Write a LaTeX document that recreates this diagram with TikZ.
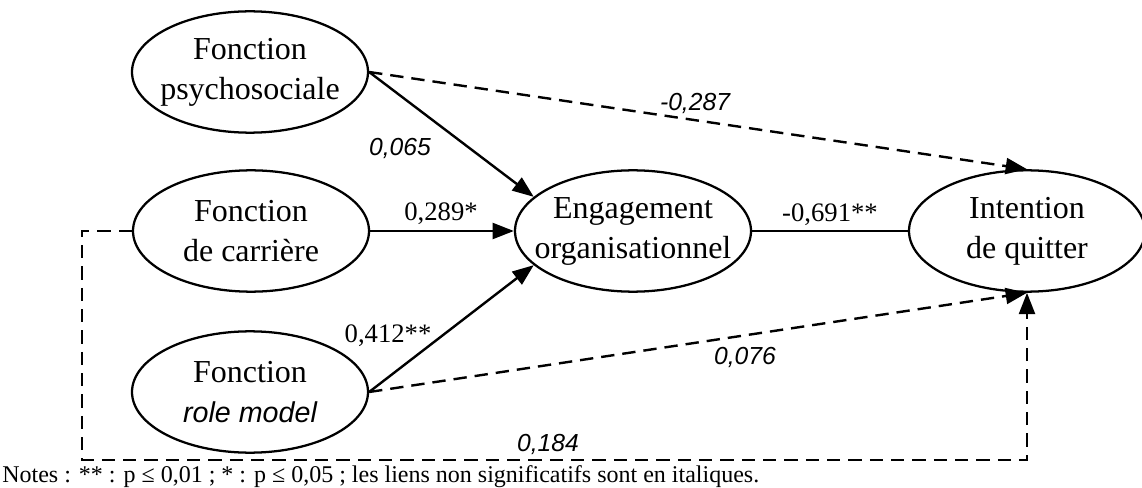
\documentclass[tikz,border=0pt]{standalone}
\usepackage{fontspec}
\setmainfont{Liberation Serif}
\newfontfamily\sanslabel{Liberation Sans}
\usetikzlibrary{arrows.meta}
\usetikzlibrary{shapes.geometric}

\begin{document}
\begin{tikzpicture}[x=0.75pt,y=-0.75pt,
    latent/.style={ellipse,draw,line width=1.7pt,minimum width=177pt,minimum height=91pt,
      inner xsep=-25pt,inner ysep=0pt,align=center,font=\fontsize{24}{30}\selectfont},
    sig/.style={line width=1.8pt,-{Triangle[length=16pt,width=12pt]}},
    nonsig/.style={sig,dash pattern=on 10pt off 6pt},
    coef/.style={font=\fontsize{20}{22}\selectfont},
    coefit/.style={font=\sanslabel\itshape\fontsize{18.5}{20}\selectfont}]
    \useasboundingbox (0,0) rectangle (1142,488);
    \node[latent] (psycho) at (250,72) {Fonction\\psychosociale};
    \node[latent] (carriere) at (251,231) {Fonction\\de carrière};
    \node[latent] (rolemodel) at (250,392) {Fonction\\{\sanslabel\itshape\fontsize{21.5}{30}\selectfont role model}};
    \node[latent] (engag) at (633,231) {Engagement\\organisationnel};
    \node[latent] (intent) at (1027,231) {Intention\\de quitter};
    \coordinate (loopcorner) at (82,460);
    %
    \draw[sig] (psycho.east) -- (engag.161);
    \draw[sig] (carriere.east) -- (engag.west);
    \draw[sig] (rolemodel.east) -- (engag.199);
    \draw[line width=1.8pt] (engag.east) -- (intent.west);
    \draw[nonsig] (psycho.east) -- (intent.north);
    \draw[nonsig] (rolemodel.east) -- (intent.south);
    \draw[nonsig] (carriere.west) -| (loopcorner) -| (intent.south);
    %
    \node[coefit] at (400,148) {0,065};
    \node[coef] at (441,214) {0,289*};
    \node[coef] at (388,336) {0,412**};
    \node[coefit] at (695,103) {-0,287};
    \node[coef] at (830,215) {-0,691**};
    \node[coefit] at (745,357) {0,076};
    \node[coefit] at (548,444) {0,184};
    \node[anchor=base west,inner sep=0pt,font=\fontsize{18}{19}\selectfont] (notes) at (2,482)
      {Notes : ** : p ≤ 0,01 ; * : p ≤ 0,05 ; les liens non significatifs sont en italiques.};
\end{tikzpicture}
\end{document}
